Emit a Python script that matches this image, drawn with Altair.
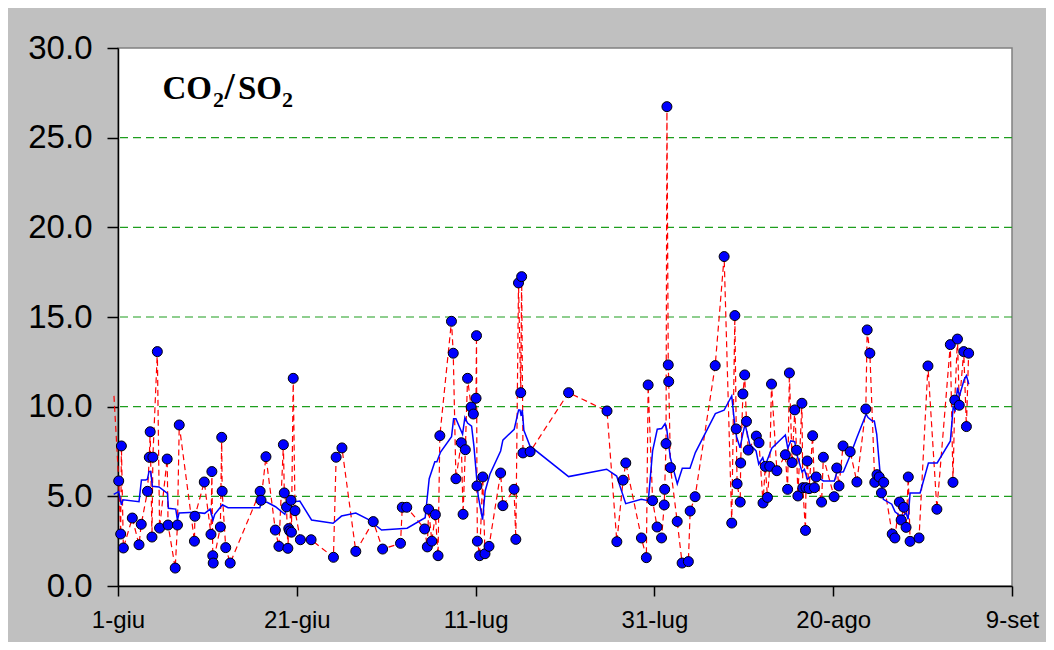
import json
import altair as alt
import pandas as pd

# Measurements: day offset from 1 June, CO2/SO2 ratio (first entry lies just before 1-giu)
days = [-0.45, 0.08, 0.3, 0.38, 0.6, 1.6, 2.35, 2.6, 3.3, 3.5, 3.6, 3.8, 3.9, 4.4, 4.65,
        5.5, 5.6, 6.4, 6.65, 6.85, 8.55, 8.6, 9.65, 10.4, 10.5, 10.6, 10.65, 11.45, 11.6,
        11.65, 12.05, 12.55, 15.9, 16.0, 16.55, 17.6, 18.0, 18.5, 18.6, 18.85, 19.0, 19.1,
        19.2, 19.35, 19.4, 19.6, 19.8, 20.4, 21.6, 24.1, 24.4, 25.05, 26.6, 28.55, 29.6,
        31.6, 31.8, 32.3, 34.3, 34.6, 34.75, 35.1, 35.5, 35.8, 36.0, 37.3, 37.5, 37.8, 38.4,
        38.6, 38.85, 39.1, 39.5, 39.75, 40.05, 40.1, 40.15, 40.2, 40.45, 40.8, 41.05, 41.5,
        42.8, 43.05, 44.3, 44.5, 44.8, 45.05, 45.15, 45.3, 46.1, 50.4, 54.7, 55.8, 56.5,
        56.8, 58.55, 59.1, 59.3, 59.8, 60.3, 60.8, 61.1, 61.15, 61.3, 61.4, 61.55, 61.6,
        61.8, 62.55, 63.1, 63.8, 64.0, 64.55, 66.8, 67.8, 68.65, 69.0, 69.15, 69.25, 69.6,
        69.65, 69.9, 70.1, 70.3, 70.5, 71.4, 71.7, 72.15, 72.4, 72.65, 72.9, 73.1, 73.7,
        74.65, 74.9, 75.1, 75.4, 75.7, 75.9, 76.05, 76.5, 76.6, 76.9, 76.95, 77.1, 77.3,
        77.7, 77.9, 78.1, 78.7, 78.9, 80.1, 80.4, 80.65, 81.1, 81.9, 82.65, 83.65, 83.8,
        84.1, 84.65, 84.9, 85.15, 85.4, 85.65, 86.6, 86.9, 87.4, 87.6, 87.9, 88.15, 88.4,
        88.6, 89.6, 90.6, 91.6, 93.1, 93.4, 93.6, 93.9, 94.1, 94.6, 94.9, 95.15]
ratios = [10.6, 5.86, 2.9, 7.81, 2.12, 3.79, 2.3, 3.44, 5.28, 7.18, 8.6, 2.73, 7.18, 13.07, 3.23,
          7.08, 3.4, 1.0, 3.4, 8.98, 2.5, 3.89, 5.8, 2.88, 6.38, 1.69, 1.28, 3.29, 8.29,
          5.28, 2.14, 1.28, 5.28, 4.78, 7.21, 3.12, 2.21, 7.88, 5.19, 4.41, 2.1, 3.2,
          3.07, 4.78, 3.0, 11.58, 4.2, 2.58, 2.58, 1.6, 7.18, 7.7, 1.93, 3.59, 2.06,
          2.38, 4.39, 4.39, 3.18, 2.18, 4.28, 2.5, 3.98, 1.69, 8.38, 14.76, 12.98, 5.98, 7.99,
          4.0, 7.6, 11.58, 9.98, 9.59, 10.47, 13.96, 5.58, 2.5, 1.69, 6.08, 1.8, 2.21,
          6.3, 4.48, 5.39, 2.6, 16.9, 10.78, 17.25, 7.42, 7.49, 10.78, 9.76, 2.47, 5.9,
          6.86, 2.68, 1.58, 11.21, 4.76, 3.29, 2.68, 4.52, 5.39, 7.94, 26.73, 12.33, 11.4,
          6.6, 3.6, 1.28, 1.36, 4.18, 4.98, 12.29, 18.37, 3.51, 15.08, 8.76, 5.7, 4.68,
          6.86, 10.71, 11.77, 9.18, 7.58, 8.36, 7.99, 4.63, 6.67, 4.94, 6.67, 11.26, 6.43,
          7.32, 5.39, 11.88, 6.88, 9.82, 7.57, 5.02, 10.19, 5.48, 3.1, 5.48, 6.97, 5.43,
          8.38, 5.48, 6.08, 4.68, 7.18, 4.98, 6.58, 5.58, 7.81, 7.49, 5.8, 9.87, 14.28,
          12.98, 5.78, 6.21, 6.08, 5.19, 5.78, 2.9, 2.68, 4.68, 3.68, 4.39, 3.27, 6.08,
          2.49, 2.68, 12.27, 4.28, 13.46, 5.78, 10.37, 13.77, 10.08, 13.07, 8.89, 12.98]

# Moving average (blue line)
avg_days = [-0.48, 0.08, 0.38, 0.56, 2.35, 2.62, 3.1, 3.29, 3.47, 3.66, 3.85, 4.59, 5.53, 5.64,
            6.46, 6.65, 6.83, 8.58, 9.7, 10.3, 10.63, 10.82, 11.68, 12.31, 15.86, 16.08,
            16.68, 17.62, 18.66, 19.03, 20.34, 21.65, 24.06, 25.0, 26.6, 27.98, 29.48, 32.34,
            34.36, 34.81, 35.44, 35.67, 36.08, 37.31, 37.54, 37.8, 38.54, 38.8, 39.1, 39.55,
            39.81, 40.29, 40.78, 41.07, 41.6, 42.8, 43.05, 44.32, 44.81, 44.96, 45.1, 45.22,
            45.4, 46.08, 50.4, 54.66, 55.78, 56.79, 58.53, 59.32, 59.8, 60.32, 60.82, 61.19,
            61.38, 61.78, 62.56, 63.12, 63.98, 64.58, 66.82, 67.79, 68.65, 69.02, 69.2, 69.58,
            69.88, 70.14, 70.67, 71.37, 71.67, 72.12, 72.38, 72.64, 73.13, 74.65, 74.92, 75.25,
            75.7, 75.92, 76.52, 76.78, 77.11, 77.41, 77.89, 78.9, 80.13, 80.4, 81.14, 81.92,
            82.64, 83.68, 83.9, 84.38, 84.6, 84.87, 85.24, 85.61, 86.55, 86.92, 87.41, 87.9,
            88.15, 88.38, 88.6, 89.72, 90.65, 91.63, 93.11, 93.42, 93.64, 93.9, 94.12, 94.65,
            94.9, 95.17]
avg_vals = [5.11, 5.26, 4.52, 4.81, 4.7, 5.91, 5.91, 5.95, 6.39, 6.39, 5.56, 5.52, 5.17, 4.33,
            4.29, 3.68, 4.07, 4.11, 4.05, 4.29, 3.68, 4.0, 4.53, 4.37, 4.37, 4.67,
            4.67, 4.42, 4.0, 4.65, 4.74, 3.68, 3.5, 3.9, 4.07, 3.72, 3.12, 3.22,
            3.81, 5.98, 6.93, 6.93, 7.47, 8.33, 9.33, 9.33, 8.46, 9.39, 9.09, 8.92,
            7.81, 5.02, 3.7, 5.3, 6.23, 7.53, 8.13, 8.74, 9.82, 9.82, 9.48, 9.82,
            8.68, 7.81, 6.1, 6.51, 6.13, 4.59, 4.83, 4.76, 7.53, 8.74, 8.78, 9.05,
            8.74, 7.16, 5.7, 6.56, 6.56, 7.44, 9.61, 9.8, 10.6, 8.83, 8.31, 7.71,
            8.46, 9.02, 7.9, 7.53, 6.79, 7.16, 6.69, 7.04, 7.68, 8.42, 7.68, 8.09,
            8.05, 7.35, 6.36, 6.51, 5.95, 6.08, 6.19, 5.86, 5.86, 6.32, 6.37, 7.3,
            8.27, 9.58, 9.39, 9.2, 9.2, 8.46, 6.32, 4.83, 4.56, 4.14, 3.94, 3.94,
            4.07, 3.72, 5.19, 5.19, 6.86, 6.86, 8.09, 9.98, 9.8, 11.06, 10.6, 11.51,
            11.73, 11.25]

x_ticks = [0, 20, 40, 60, 80, 100]
x_labels = ["1-giu", "21-giu", "11-lug", "31-lug", "20-ago", "9-set"]
y_ticks = [0, 5, 10, 15, 20, 25, 30]
grid_levels = [5, 10, 15, 20, 25]

meas = pd.DataFrame({"day": days, "ratio": ratios, "idx": range(len(days))})
avg = pd.DataFrame({"day": avg_days, "ratio": avg_vals, "idx": range(len(avg_days))})
grid = pd.DataFrame({"ratio": grid_levels})

label_expr = json.dumps(x_labels) + "[round(datum.value / 20)]"

xs = alt.X("day:Q", scale=alt.Scale(domain=[0, 100], nice=False, zero=False),
           axis=alt.Axis(values=x_ticks, labelExpr=label_expr, title=None, grid=False,
                         labelFontSize=24, labelFont="Liberation Sans", labelColor="black",
                         tickSize=10, tickColor="black", domainColor="black", domainWidth=1.5,
                         tickWidth=1.5, labelPadding=12, labelFlush=False, labelOverlap=False))
ys = alt.Y("ratio:Q", scale=alt.Scale(domain=[0, 30], nice=False),
           axis=alt.Axis(values=y_ticks, format=".1f", title=None, grid=False,
                         labelFontSize=33, labelFont="Liberation Sans", labelColor="black",
                         tickSize=11, tickColor="black", domainColor="black", domainWidth=1.5,
                         tickWidth=1.5, labelPadding=15, labelFlush=False, labelOverlap=False))

grid_layer = alt.Chart(grid).mark_rule(color="#1E9E1E", strokeDash=[8, 5], strokeWidth=1.2).encode(
    y=ys)

avg_line = alt.Chart(avg).mark_line(color="#0000FF", strokeWidth=1.5).encode(
    x=xs, y=ys, order="idx:Q")

red_line = alt.Chart(meas).mark_line(color="#FF0000", strokeWidth=1.2, strokeDash=[6, 4]).encode(
    x=xs, y=ys, order="idx:Q")

points = alt.Chart(meas).transform_filter("datum.day >= 0").mark_point(
    shape="circle", filled=True, size=100, fill="#0000FF", stroke="black", strokeWidth=1, opacity=1
).encode(x=xs, y=ys)

def piece(txt, x, y, size):
    return alt.Chart(alt.Data(values=[{}])).mark_text(
        text=txt, font="Liberation Serif", fontWeight="bold", fontSize=size,
        align="left", baseline="alphabetic", color="black"
    ).encode(x=alt.value(x), y=alt.value(y))

title_layers = [
    piece("CO", 44.5, 51, 33),
    piece("2", 95, 58.5, 22),
    piece("/", 106.5, 51, 37),
    piece("SO", 120, 51, 33),
    piece("2", 164, 58.5, 22),
]

chart = alt.layer(grid_layer, red_line, avg_line, points, *title_layers).properties(
    width=894, height=538,
    autosize=alt.AutoSizeParams(type="none"),
    padding={"left": 110, "top": 40, "right": 34, "bottom": 56},
).configure(background="#C0C0C0").configure_view(
    fill="white", stroke="#808080", strokeWidth=1.5
)

chart.save("out.html", embed_options={"renderer": "svg", "actions": False})
